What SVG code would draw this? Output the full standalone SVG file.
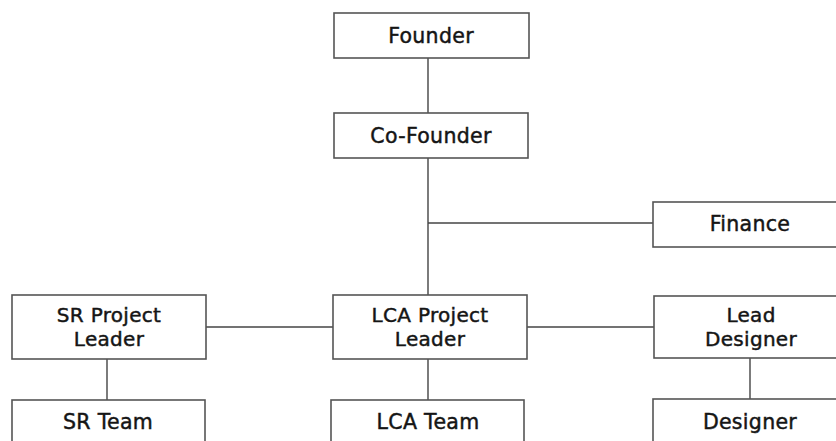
<svg xmlns="http://www.w3.org/2000/svg" width="836" height="441" viewBox="0 0 836 441">
<style>
.box{fill:#fff;stroke:#555;stroke-width:1.6}
.lbl{font-family:"DejaVu Sans","Liberation Sans",sans-serif;font-size:20.5px;letter-spacing:0.3px;fill:#151515;stroke:#151515;stroke-width:0.45;text-anchor:middle}
.two{font-size:20px}
.con{stroke:#444;stroke-width:1.4;fill:none}
</style>
<rect width="836" height="441" fill="#fff"/>
<g id="connectors">
<line class="con" x1="428" y1="58" x2="428" y2="113"/>
<line class="con" x1="428" y1="158" x2="428" y2="295"/>
<line class="con" x1="428" y1="223" x2="653" y2="223"/>
<line class="con" x1="206" y1="327" x2="333" y2="327"/>
<line class="con" x1="527" y1="327" x2="654" y2="327"/>
<line class="con" x1="107" y1="359" x2="107" y2="400"/>
<line class="con" x1="428" y1="359" x2="428" y2="400"/>
<line class="con" x1="750" y1="358" x2="750" y2="399"/>
</g>
<g id="founder"><rect class="box" x="334" y="13" width="195" height="45"/><text class="lbl" x="431" y="43">Founder</text></g>
<g id="cofounder"><rect class="box" x="334" y="113" width="194" height="45"/><text class="lbl" x="431" y="143">Co-Founder</text></g>
<g id="finance"><rect class="box" x="653" y="202" width="200" height="45"/><text class="lbl" x="750" y="231">Finance</text></g>
<g id="sr-leader"><rect class="box" x="12" y="295" width="194" height="64"/><text class="lbl two" x="109" y="322">SR Project</text><text class="lbl two" x="109" y="346">Leader</text></g>
<g id="lca-leader"><rect class="box" x="333" y="295" width="194" height="64"/><text class="lbl two" x="430" y="322">LCA Project</text><text class="lbl two" x="430" y="346">Leader</text></g>
<g id="lead-designer"><rect class="box" x="654" y="296" width="200" height="62"/><text class="lbl two" x="751" y="322">Lead</text><text class="lbl two" x="751" y="346">Designer</text></g>
<g id="sr-team"><rect class="box" x="12" y="400" width="193" height="60"/><text class="lbl" x="108" y="429">SR Team</text></g>
<g id="lca-team"><rect class="box" x="331" y="400" width="193" height="60"/><text class="lbl" x="428" y="429">LCA Team</text></g>
<g id="designer"><rect class="box" x="653" y="399" width="200" height="60"/><text class="lbl" x="750" y="429">Designer</text></g>
</svg>
